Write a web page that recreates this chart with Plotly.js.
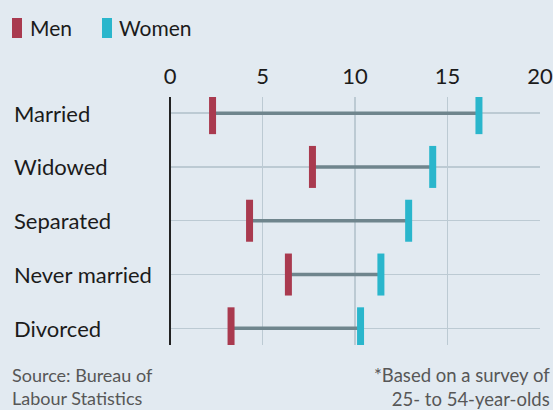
<!DOCTYPE html>
<html>
<head>
<meta charset="utf-8">
<script src="https://cdn.plot.ly/plotly-3.0.1.min.js"></script>
<style>
html,body{margin:0;padding:0;background:#e2eaf1;}
#chart{width:553px;height:410px;}
</style>
</head>
<body>
<div id="chart"></div>
<script>
const categories = ["Married", "Widowed", "Separated", "Never married", "Divorced"];
const men = [2.3, 7.7, 4.3, 6.4, 3.3];
const women = [16.7, 14.2, 12.9, 11.4, 10.3];
const seriesNames = ["Men", "Women"];
const xTicks = [0, 5, 10, 15, 20];
const sourceNote = "Source: Bureau of<br>Labour Statistics";
const footNote = "*Based on a survey of<br>25- to 54-year-olds";

const MEN_COLOR = "#a93a4f";
const WOMEN_COLOR = "#2ab6cc";
const FONT = "Lato, sans-serif";

const W = 553, H = 410;
const M = {l: 170, r: 13, t: 97, b: 65};
const pw = W - M.l - M.r, ph = H - M.t - M.b;
const px = v => (v - M.l) / pw;
const py = v => (H - M.b - v) / ph;

const cx = [], cy = [];
categories.forEach((c, i) => { cx.push(men[i], women[i], null); cy.push(c, c, null); });

const traces = [
  {type: "scatter", mode: "lines", x: cx, y: cy, line: {color: "#6f858d", width: 3.5}, hoverinfo: "skip", showlegend: false},
  {type: "scatter", mode: "markers", name: seriesNames[0], x: men, y: categories,
   marker: {symbol: "line-ns", size: 30, line: {width: 7, color: MEN_COLOR}}, showlegend: false},
  {type: "scatter", mode: "markers", name: seriesNames[1], x: women, y: categories,
   marker: {symbol: "line-ns", size: 30, line: {width: 7, color: WOMEN_COLOR}}, showlegend: false}
];

const annotations = categories.map(c => ({
  xref: "paper", yref: "y", x: px(12), y: c, text: c, showarrow: false,
  xanchor: "left", yanchor: "middle", font: {family: FONT, size: 22, color: "#1b1b1b"}
}));
annotations.push(
  {xref: "paper", yref: "paper", x: px(28), y: py(28), text: seriesNames[0], showarrow: false, xanchor: "left", yanchor: "middle", font: {family: FONT, size: 21, color: "#1b1b1b"}},
  {xref: "paper", yref: "paper", x: px(117), y: py(28), text: seriesNames[1], showarrow: false, xanchor: "left", yanchor: "middle", font: {family: FONT, size: 21, color: "#1b1b1b"}},
  {xref: "paper", yref: "paper", x: px(10), y: py(362), text: sourceNote, showarrow: false, xanchor: "left", yanchor: "top", align: "left", font: {family: FONT, size: 18, color: "#575757"}},
  {xref: "paper", yref: "paper", x: px(552), y: py(362), text: footNote, showarrow: false, xanchor: "right", yanchor: "top", align: "right", font: {family: FONT, size: 18.5, color: "#575757"}}
);

const shapes = [
  {type: "rect", xref: "paper", yref: "paper", x0: px(12), x1: px(22), y0: py(18), y1: py(38), fillcolor: MEN_COLOR, line: {width: 0}},
  {type: "rect", xref: "paper", yref: "paper", x0: px(102), x1: px(112), y0: py(18), y1: py(38), fillcolor: WOMEN_COLOR, line: {width: 0}}
];

const layout = {
  width: W, height: H,
  margin: M,
  paper_bgcolor: "#e2eaf1", plot_bgcolor: "#e2eaf1",
  showlegend: false,
  xaxis: {side: "top", range: [0, 20], tickvals: xTicks, ticktext: xTicks.map(String),
          showgrid: true, gridcolor: "#bccad3", gridwidth: 1.3,
          zeroline: true, zerolinecolor: "#222", zerolinewidth: 2.5,
          showline: false, ticks: "", ticklabelstandoff: 8,
          tickfont: {family: FONT, size: 22, color: "#1b1b1b"}, fixedrange: true},
  yaxis: {type: "category", categoryarray: categories, range: [4.31, -0.3],
          showticklabels: false, showgrid: true, gridcolor: "#bccad3", gridwidth: 1.3,
          zeroline: false, showline: false, ticks: "", fixedrange: true},
  annotations: annotations,
  shapes: shapes
};

Plotly.newPlot("chart", traces, layout, {displayModeBar: false, staticPlot: true});
</script>
</body>
</html>
